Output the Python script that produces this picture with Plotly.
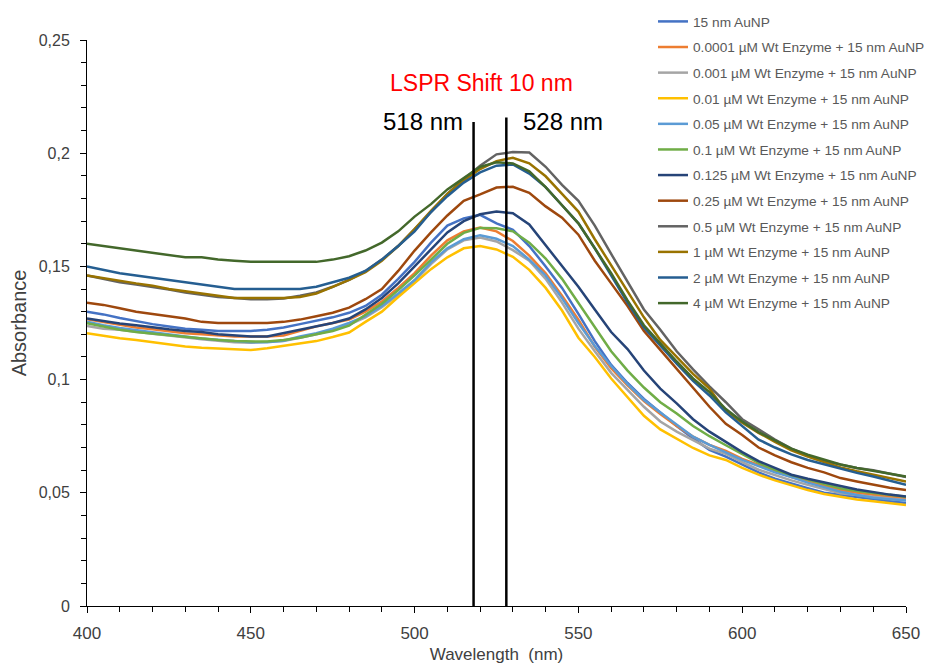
import plotly.graph_objects as go

# Wavelength grid (nm)
wavelength = list(range(400, 651, 5))

# Absorbance spectra, one list per sample
abs_aunp = [0.130, 0.1288, 0.1272, 0.1258, 0.1245, 0.1235, 0.1225, 0.122, 0.1215, 0.1215,
            0.1215, 0.122, 0.123, 0.1245, 0.126, 0.1275, 0.1295, 0.1325, 0.1375, 0.1445,
            0.152, 0.1605, 0.168, 0.1712, 0.1728, 0.169, 0.1662, 0.159, 0.150, 0.1405,
            0.129, 0.117, 0.1065, 0.0985, 0.0915, 0.0855, 0.0795, 0.074, 0.069, 0.066,
            0.0625, 0.059, 0.0562, 0.054, 0.052, 0.050, 0.049, 0.048, 0.0472, 0.0463, 0.0455]
abs_00001 = [0.1267, 0.1255, 0.124, 0.123, 0.1222, 0.1213, 0.1205, 0.120, 0.1195, 0.119,
             0.119, 0.119, 0.1195, 0.1215, 0.1235, 0.125, 0.1265, 0.130, 0.1345, 0.1405,
             0.147, 0.1548, 0.1615, 0.1655, 0.1672, 0.1655, 0.1612, 0.1548, 0.147, 0.137,
             0.1265, 0.1145, 0.105, 0.0975, 0.0905, 0.0848, 0.0795, 0.0748, 0.0712, 0.0685,
             0.065, 0.0623, 0.0595, 0.057, 0.055, 0.053, 0.0512, 0.050, 0.049, 0.0483, 0.0476]
abs_0001 = [0.1237, 0.1225, 0.122, 0.121, 0.1203, 0.1195, 0.1185, 0.1178, 0.1172, 0.1165,
            0.1163, 0.1165, 0.117, 0.1185, 0.120, 0.122, 0.1243, 0.1275, 0.132, 0.1375,
            0.1435, 0.151, 0.1575, 0.1615, 0.1628, 0.161, 0.1572, 0.1525, 0.1445, 0.134,
            0.1225, 0.1125, 0.103, 0.0955, 0.088, 0.0815, 0.077, 0.0733, 0.0695, 0.0672,
            0.0635, 0.0602, 0.0578, 0.0555, 0.0535, 0.0515, 0.0498, 0.049, 0.0484, 0.0475, 0.0468]
abs_001 = [0.1205, 0.1193, 0.1183, 0.1175, 0.1165, 0.1155, 0.1146, 0.1141, 0.1137, 0.1135,
           0.1131, 0.1138, 0.1148, 0.1158, 0.117, 0.1188, 0.1208, 0.1255, 0.130, 0.1365,
           0.1425, 0.1488, 0.154, 0.158, 0.159, 0.1575, 0.1542, 0.1485, 0.1405, 0.1305,
           0.1185, 0.110, 0.1005, 0.092, 0.084, 0.078, 0.074, 0.0698, 0.0665, 0.0645,
           0.061, 0.058, 0.0555, 0.0532, 0.0512, 0.0495, 0.0482, 0.047, 0.0463, 0.0455, 0.0446]
abs_005 = [0.1256, 0.124, 0.1228, 0.1218, 0.121, 0.120, 0.119, 0.1182, 0.1177, 0.117,
           0.1165, 0.1165, 0.1172, 0.119, 0.1205, 0.1225, 0.125, 0.128, 0.1325, 0.138,
           0.144, 0.1518, 0.158, 0.162, 0.1638, 0.1622, 0.159, 0.153, 0.146, 0.136,
           0.125, 0.1148, 0.106, 0.098, 0.091, 0.0855, 0.080, 0.0748, 0.0712, 0.068,
           0.0645, 0.0618, 0.059, 0.057, 0.0545, 0.0525, 0.0505, 0.049, 0.0478, 0.0472, 0.0466]
abs_01 = [0.1249, 0.1235, 0.122, 0.121, 0.1203, 0.1195, 0.1188, 0.118, 0.1175, 0.117,
          0.1168, 0.1168, 0.1175, 0.1185, 0.120, 0.1215, 0.1238, 0.1285, 0.1335, 0.1395,
          0.146, 0.153, 0.160, 0.1648, 0.167, 0.1668, 0.1655, 0.1605, 0.1535, 0.1445,
          0.134, 0.123, 0.1125, 0.104, 0.0965, 0.090, 0.085, 0.0795, 0.075, 0.071,
          0.067, 0.0632, 0.0602, 0.0578, 0.0558, 0.0538, 0.052, 0.0508, 0.050, 0.049, 0.0483]
abs_0125 = [0.127, 0.1258, 0.1248, 0.124, 0.123, 0.1222, 0.1215, 0.121, 0.120, 0.1195,
            0.119, 0.119, 0.1205, 0.122, 0.1235, 0.125, 0.127, 0.131, 0.136, 0.1425,
            0.150, 0.1575, 0.165, 0.170, 0.173, 0.1742, 0.1735, 0.1685, 0.1595, 0.150,
            0.141, 0.131, 0.121, 0.1135, 0.104, 0.096, 0.0895, 0.0825, 0.077, 0.0725,
            0.068, 0.064, 0.061, 0.058, 0.0562, 0.0545, 0.053, 0.0515, 0.0502, 0.0492, 0.0484]
abs_025 = [0.134, 0.133, 0.1315, 0.130, 0.129, 0.128, 0.127, 0.1255, 0.125, 0.125,
           0.125, 0.125, 0.1255, 0.1265, 0.128, 0.1295, 0.1318, 0.1355, 0.140, 0.148,
           0.157, 0.165, 0.1725, 0.179, 0.1818, 0.1848, 0.1852, 0.1825, 0.1765, 0.1715,
           0.164, 0.1525, 0.1425, 0.1325, 0.1215, 0.113, 0.105, 0.0965, 0.088, 0.0805,
           0.0755, 0.070, 0.0665, 0.0635, 0.061, 0.059, 0.0565, 0.055, 0.0535, 0.0522, 0.0512]
abs_05 = [0.146, 0.1445, 0.143, 0.142, 0.141, 0.1398, 0.1385, 0.1375, 0.1365, 0.136,
          0.1355, 0.1355, 0.1358, 0.137, 0.1385, 0.141, 0.144, 0.148, 0.153, 0.159,
          0.1665, 0.174, 0.182, 0.1885, 0.1945, 0.1995, 0.2005, 0.2003, 0.194, 0.186,
          0.179, 0.168, 0.1555, 0.143, 0.131, 0.122, 0.1125, 0.1045, 0.097, 0.090,
          0.0825, 0.078, 0.0735, 0.0695, 0.0665, 0.064, 0.0625, 0.061, 0.060, 0.0585, 0.057]
abs_1 = [0.146, 0.1448, 0.1435, 0.1425, 0.1415, 0.140, 0.139, 0.138, 0.137, 0.136,
         0.136, 0.136, 0.136, 0.1365, 0.138, 0.141, 0.144, 0.1475, 0.1525, 0.159,
         0.1665, 0.1745, 0.182, 0.188, 0.193, 0.1965, 0.198, 0.1955, 0.1898, 0.182,
         0.1742, 0.162, 0.1505, 0.139, 0.1275, 0.1175, 0.110, 0.1025, 0.096, 0.086,
         0.081, 0.0765, 0.0725, 0.0688, 0.066, 0.0635, 0.0612, 0.0595, 0.058, 0.0565, 0.055]
abs_2 = [0.150, 0.1485, 0.147, 0.146, 0.145, 0.144, 0.143, 0.142, 0.1412, 0.140,
         0.140, 0.140, 0.140, 0.140, 0.141, 0.143, 0.145, 0.148, 0.153, 0.159,
         0.1655, 0.174, 0.181, 0.187, 0.1915, 0.1945, 0.195, 0.191, 0.185, 0.177,
         0.169, 0.158, 0.146, 0.134, 0.123, 0.115, 0.107, 0.0995, 0.093, 0.0855,
         0.0795, 0.0735, 0.070, 0.067, 0.0645, 0.0625, 0.0605, 0.0588, 0.0572, 0.0555, 0.0535]
abs_4 = [0.160, 0.159, 0.158, 0.157, 0.156, 0.155, 0.154, 0.154, 0.153, 0.1525,
         0.152, 0.152, 0.152, 0.152, 0.152, 0.153, 0.1545, 0.157, 0.1605, 0.1655,
         0.172, 0.1775, 0.184, 0.189, 0.194, 0.196, 0.1955, 0.192, 0.185, 0.177,
         0.169, 0.158, 0.147, 0.135, 0.124, 0.116, 0.108, 0.1005, 0.0945, 0.087,
         0.0815, 0.0768, 0.073, 0.0695, 0.0668, 0.0645, 0.0625, 0.061, 0.0598, 0.0585, 0.0572]

series_names = [
    "15 nm AuNP",
    "0.0001 µM Wt Enzyme + 15 nm AuNP",
    "0.001 µM Wt Enzyme + 15 nm AuNP",
    "0.01 µM Wt Enzyme + 15 nm AuNP",
    "0.05 µM Wt Enzyme + 15 nm AuNP",
    "0.1 µM Wt Enzyme + 15 nm AuNP",
    "0.125 µM Wt Enzyme + 15 nm AuNP",
    "0.25 µM Wt Enzyme + 15 nm AuNP",
    "0.5 µM Wt Enzyme + 15 nm AuNP",
    "1 µM Wt Enzyme + 15 nm AuNP",
    "2 µM Wt Enzyme + 15 nm AuNP",
    "4 µM Wt Enzyme + 15 nm AuNP",
]
series_values = [abs_aunp, abs_00001, abs_0001, abs_001, abs_005, abs_01,
                 abs_0125, abs_025, abs_05, abs_1, abs_2, abs_4]
series_colors = ["#4472C4", "#ED7D31", "#A5A5A5", "#FFC000", "#5B9BD5", "#70AD47",
                 "#264478", "#9E480E", "#636363", "#997300", "#255E91", "#43682B"]

# LSPR peak positions (nm) marked with vertical lines
peak_positions = [518, 528]

y_tick_values = [0, 0.05, 0.1, 0.15, 0.2, 0.25]
y_tick_labels = ["0", "0,05", "0,1", "0,15", "0,2", "0,25"]
x_tick_values = [400, 450, 500, 550, 600, 650]
x_tick_labels = ["400", "450", "500", "550", "600", "650"]

FONT = "Liberation Sans, Arial, sans-serif"

fig = go.Figure()

for i, (name, vals, col) in enumerate(zip(series_names, series_values, series_colors)):
    fig.add_trace(go.Scatter(
        x=wavelength, y=vals, name=name, mode="lines",
        line=dict(color=col, width=2.5),
        legendgroup=str(i),
    ))

line_tops = [0.2138, 0.2158]
for pos, top in zip(peak_positions, line_tops):
    fig.add_trace(go.Scatter(
        x=[pos, pos], y=[0, top], mode="lines",
        line=dict(color="black", width=2.5),
        showlegend=False, hoverinfo="skip",
    ))

shift = peak_positions[1] - peak_positions[0]
fig.add_annotation(x=520.5, y=0.2312, text=f"LSPR Shift {shift} nm", showarrow=False,
                   font=dict(family=FONT, size=23, color="#FF0000"),
                   xanchor="center", yanchor="middle")
fig.add_annotation(x=502.6, y=0.2138, text=f"{peak_positions[0]} nm", showarrow=False,
                   font=dict(family=FONT, size=24, color="black"),
                   xanchor="center", yanchor="middle")
fig.add_annotation(x=545.3, y=0.2138, text=f"{peak_positions[1]} nm", showarrow=False,
                   font=dict(family=FONT, size=24, color="black"),
                   xanchor="center", yanchor="middle")

fig.update_layout(
    width=928, height=664,
    margin=dict(l=87, r=22, t=40, b=58, autoexpand=False),
    paper_bgcolor="white", plot_bgcolor="white",
    font=dict(family=FONT, color="#404040"),
    showlegend=True,
    legend=dict(
        xref="container", yref="container",
        x=653 / 928, y=1 - 6 / 664, xanchor="left", yanchor="top",
        font=dict(family=FONT, size=13.7, color="#595959"),
        bgcolor="rgba(0,0,0,0)",
        tracegroupgap=4.8,
        traceorder="grouped",
    ),
)

fig.update_xaxes(
    range=[400, 650], showgrid=False, zeroline=False,
    showline=True, linecolor="black", linewidth=1,
    tickmode="array", tickvals=x_tick_values, ticktext=x_tick_labels,
    ticks="outside", ticklen=6, tickcolor="black", ticklabelstandoff=6,
    minor=dict(dtick=10, tick0=400, ticks="outside", ticklen=5, tickcolor="black", showgrid=False),
    tickfont=dict(family=FONT, size=17, color="#404040"),
    title=dict(text="Wavelength  (nm)", font=dict(family=FONT, size=17, color="#404040"), standoff=10),
    automargin=False,
)
fig.update_yaxes(
    range=[0, 0.25], showgrid=False, zeroline=False,
    showline=True, linecolor="black", linewidth=1,
    tickmode="array", tickvals=y_tick_values, ticktext=y_tick_labels,
    ticks="outside", ticklen=6, tickcolor="black", ticklabelstandoff=7,
    minor=dict(dtick=0.01, tick0=0, ticks="outside", ticklen=5, tickcolor="black", showgrid=False),
    tickfont=dict(family=FONT, size=16, color="#404040"),
    title=dict(text="Absorbance", font=dict(family=FONT, size=20, color="#404040"), standoff=6),
    automargin=False,
)

fig.write_html("out.html")
